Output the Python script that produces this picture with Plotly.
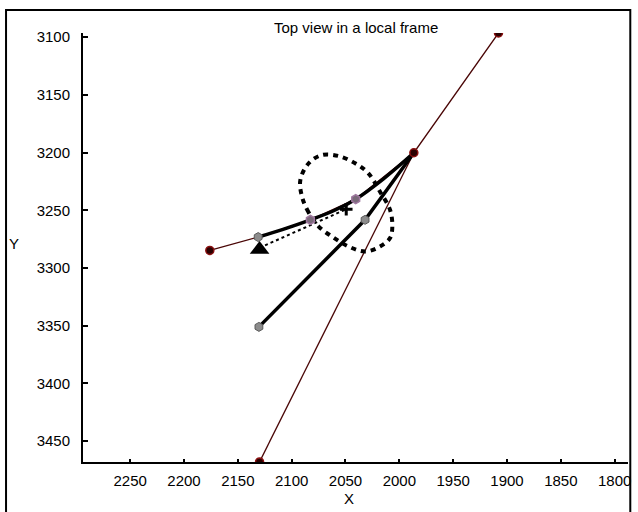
import plotly.graph_objects as go

# ---- data ----
x_ticks = [2250, 2200, 2150, 2100, 2050, 2000, 1950, 1900, 1850, 1800]
y_ticks = [3100, 3150, 3200, 3250, 3300, 3350, 3400, 3450]

# thin dark-red reference lines
red_x = [2176.0, 2131.1, 2082.6, 2040.5, 1986.5, 1907.9]
red_y = [3284.8, 3273.2, 3258.3, 3240.4, 3200.2, 3096.5]
red2_x = [1986.5, 2129.8]
red2_y = [3200.2, 3467.9]

# thick black paths
upper_x = [2131.1, 2108.0, 2082.6, 2060.0, 2040.5, 2015.0, 1986.5]
upper_y = [3273.2, 3266.5, 3258.3, 3250.0, 3240.4, 3223.0, 3200.2]
lower_x = [2130.4, 2031.8, 1986.5]
lower_y = [3351.0, 3258.3, 3200.2]

# thick dotted loop
loop_x = [2074.9, 2084.2, 2090.4, 2091.9, 2084.2, 2071.9, 2056.5, 2041.0, 2028.7,
          2017.9, 2008.6, 2006.5, 2008.6, 2017.9, 2031.8, 2047.2, 2062.7, 2074.9]
loop_y = [3264.1, 3252.0, 3238.2, 3223.7, 3209.3, 3202.2, 3203.0, 3209.3, 3218.0,
          3233.9, 3249.7, 3264.1, 3274.1, 3281.4, 3285.7, 3281.4, 3272.7, 3264.1]

# thin dotted path triangle -> plus
dot_x = [2129.8, 2049.3]
dot_y = [3282.5, 3249.1]

# markers
end_x = [2176.0, 1986.5, 1907.9, 2129.8]
end_y = [3284.8, 3200.2, 3096.5, 3467.9]
gray_x = [2131.1, 2031.8, 2130.4]
gray_y = [3273.2, 3258.3, 3351.0]
purple_x = [2082.6, 2040.5]
purple_y = [3258.3, 3240.4]
tri_x = [2129.8]
tri_y = [3284.0]
plus_x = [2049.3]
plus_y = [3249.1]

fig = go.Figure()
fig.add_trace(go.Scatter(x=red_x, y=red_y, mode="lines",
                         line=dict(color="#4a0606", width=1.3)))
fig.add_trace(go.Scatter(x=red2_x, y=red2_y, mode="lines",
                         line=dict(color="#4a0606", width=1.3)))
fig.add_trace(go.Scatter(x=upper_x, y=upper_y, mode="lines", line_shape="spline",
                         line=dict(color="black", width=3.5)))
fig.add_trace(go.Scatter(x=lower_x, y=lower_y, mode="lines",
                         line=dict(color="black", width=3.5)))
fig.add_trace(go.Scatter(x=loop_x, y=loop_y, mode="lines", line_shape="spline",
                         line=dict(color="black", width=4, dash="5px,5px")))
fig.add_trace(go.Scatter(x=dot_x, y=dot_y, mode="lines",
                         line=dict(color="black", width=2, dash="3px,3px")))
fig.add_trace(go.Scatter(x=end_x, y=end_y, mode="markers",
                         marker=dict(symbol="circle", size=8, color="#2a0000",
                                     line=dict(color="#8a1010", width=1.5))))
fig.add_trace(go.Scatter(x=gray_x, y=gray_y, mode="markers",
                         marker=dict(symbol="hexagon", size=9, color="#8c8c8c",
                                     line=dict(color="#5a5a5a", width=1))))
fig.add_trace(go.Scatter(x=purple_x, y=purple_y, mode="markers",
                         marker=dict(symbol="hexagon", size=9, color="#7a6a7a",
                                     line=dict(color="#a078a0", width=1.5))))
fig.add_trace(go.Scatter(x=tri_x, y=tri_y, mode="markers",
                         marker=dict(symbol="triangle-up", size=17, color="black")))
fig.add_trace(go.Scatter(x=plus_x, y=plus_y, mode="markers",
                         marker=dict(symbol="cross-thin", size=9,
                                     line=dict(color="black", width=3))))

fig.update_layout(
    width=638, height=512,
    margin=dict(l=83, r=7, t=33, b=50),
    paper_bgcolor="white", plot_bgcolor="white",
    showlegend=False,
    font=dict(family="Liberation Sans, Arial, sans-serif", size=15, color="black"),
    xaxis=dict(range=[2293.8, 1787.6], tickvals=x_ticks, ticktext=[str(v) for v in x_ticks],
               showgrid=False, zeroline=False, showline=True, linecolor="black", linewidth=2,
               ticks="inside", ticklen=3, tickwidth=1.5, tickcolor="black",
               ticklabelstandoff=4),
    yaxis=dict(range=[3468, 3096.5], tickvals=y_ticks, ticktext=[str(v) for v in y_ticks],
               showgrid=False, zeroline=False, showline=True, linecolor="black", linewidth=2,
               ticks="inside", ticklen=5, tickwidth=1.5, tickcolor="black",
               ticklabelstandoff=8),
    annotations=[
        dict(text="Top view in a local frame", xref="paper", yref="paper",
             x=(358 - 83.3) / 547.4, y=(462.3 - 27) / 429.3, showarrow=False,
             xanchor="center", yanchor="middle", font=dict(size=15)),
        dict(text="X", xref="paper", yref="paper",
             x=(350 - 83.3) / 547.4, y=(462.3 - 499) / 429.3, showarrow=False,
             xanchor="center", yanchor="middle", font=dict(size=15)),
        dict(text="Y", xref="paper", yref="paper",
             x=(14 - 83.3) / 547.4, y=(462.3 - 244) / 429.3, showarrow=False,
             xanchor="center", yanchor="middle", font=dict(size=15)),
    ],
    shapes=[
        dict(type="rect", xref="paper", yref="paper",
             x0=(6 - 83.3) / 547.4, x1=(633 - 83.3) / 547.4,
             y0=(462.3 - 520) / 429.3, y1=(462.3 - 10) / 429.3,
             line=dict(color="black", width=2), fillcolor="rgba(0,0,0,0)", layer="below"),
    ],
)

fig.write_html("out.html", config={"displayModeBar": False},
               post_script="document.body.style.margin='0';document.body.style.padding='0';document.documentElement.style.overflow='hidden';")
